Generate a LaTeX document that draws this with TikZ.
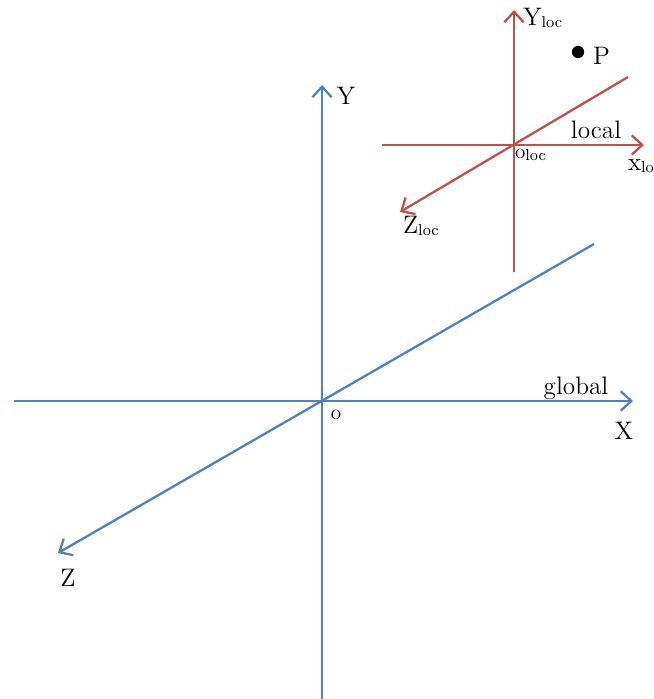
\documentclass[tikz,border=0pt]{standalone}
\usepackage{tikz}
\usetikzlibrary{arrows.meta}

\definecolor{axisblue}{RGB}{79,129,189}
\definecolor{axisred}{RGB}{192,80,77}

\newcommand{\locsub}[1]{#1\raisebox{-0.2ex}{\small loc}}

\begin{document}
\begin{tikzpicture}[
        x=0.02cm, y=-0.02cm,
        axis_global/.style={draw=axisblue, line width=1.3pt},
        axis_local/.style={draw=axisred, line width=1.3pt},
        axis_tip/.style={-{Straight Barb[length=6pt, width=11pt, line width=1.3pt]}},
        label_axis/.style={font=\Large, inner sep=1pt},
        label_frame/.style={font=\Large, inner sep=1pt}
    ]
    \clip (0,0) rectangle (653,699);

    % ==================== Global frame ====================
    \coordinate (go) at (322,401);
    \coordinate (gx_l) at (14,401);
    \coordinate (gx_r) at (633,401);
    \coordinate (gy_b) at (322,699);
    \coordinate (gy_t) at (322,85);
    \coordinate (gz_t) at (594,244);
    \coordinate (gz_b) at (58,553);

    \draw[axis_global, axis_tip] (gx_l) -- (gx_r);
    \draw[axis_global, axis_tip] (gy_b) -- (gy_t);
    \draw[axis_global, axis_tip] (gz_t) -- (gz_b);

    \node[label_axis] (lbl_gy) at (346,96) {Y};
    \node[label_axis] (lbl_gx) at (624,431) {X};
    \node[label_axis] (lbl_gz) at (68,578) {Z};
    \node[font=\large, inner sep=1pt] (lbl_go) at (336,415) {o};
    \node[label_frame] (lbl_global) at (576,388) {global};

    % ==================== Local frame ====================
    \coordinate (lo) at (514,145);
    \coordinate (lx_l) at (382,145);
    \coordinate (lx_r) at (644,145);
    \coordinate (ly_b) at (514,272);
    \coordinate (ly_t) at (514,10);
    \coordinate (lz_t) at (628,77);
    \coordinate (lz_b) at (400,212);

    \draw[axis_local, axis_tip] (lx_l) -- (lx_r);
    \draw[axis_local, axis_tip] (ly_b) -- (ly_t);
    \draw[axis_local, axis_tip] (lz_t) -- (lz_b);

    \node[label_axis, anchor=west] (lbl_ly) at (521,18) {\locsub{Y}};
    \node[label_axis, anchor=west] (lbl_lx) at (626,166) {\locsub{x}};
    \node[label_axis, anchor=west] (lbl_lz) at (401,226) {\locsub{Z}};
    \node[font=\large, inner sep=1pt, anchor=west] (lbl_lo) at (513,155) {\locsub{o}};
    \node[label_frame] (lbl_local) at (596,130) {local};

    % Point
    \node[circle, fill=black, inner sep=0pt, minimum size=7pt] (pt_p) at (578,52) {};
    \node[label_axis, anchor=west] (lbl_p) at (591,56) {P};

    \end{tikzpicture}
\end{document}
